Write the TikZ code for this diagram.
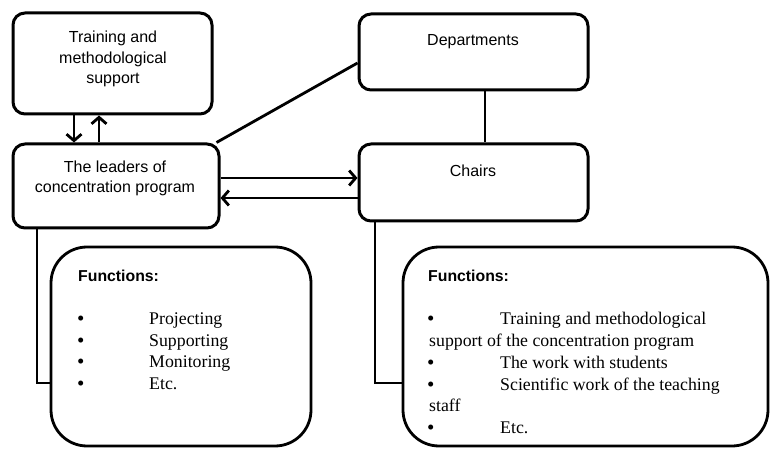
\documentclass[tikz,border=0pt]{standalone}
\usepackage{fontspec}
\setmainfont{Liberation Serif}
\newfontfamily\labelfont{Liberation Sans}
\usetikzlibrary{arrows.meta,calc}
\begin{document}
\begin{tikzpicture}[x=1pt,y=-1pt,
  box/.style={draw,line width=3pt,rounded corners=12pt,inner sep=0pt},
  fnbox/.style={draw,line width=2.8pt,rounded corners=36pt,inner sep=0pt},
  lbl/.style={inner sep=0pt,anchor=base,font=\labelfont\fontsize{16}{19}\selectfont},
  head/.style={inner sep=0pt,anchor=base west,font=\labelfont\bfseries\fontsize{15.8}{19}\selectfont},
  item/.style={inner sep=0pt,anchor=base west,font=\fontsize{17.8}{22}\selectfont},
  dot/.style={inner sep=0pt,anchor=base west,font=\fontsize{21}{21}\selectfont},
  link/.style={line width=2.8pt},
  arr/.style={link,-{Straight Barb[length=6.5pt,width=15pt]}}
]
\useasboundingbox (0,0) rectangle (771,449);

% boxes
\node[box,minimum width=199pt,minimum height=101pt] (tms)  at (112.5,63.5) {};
\node[box,minimum width=206pt,minimum height=84pt]  (lead) at (116,186) {};
\node[box,minimum width=229pt,minimum height=76pt]  (dep)  at (473.5,52) {};
\node[box,minimum width=229pt,minimum height=77pt]  (ch)   at (473.5,182.5) {};
\node[fnbox,minimum width=260pt,minimum height=199pt] (f1) at (181,346.5) {};
\node[fnbox,minimum width=365pt,minimum height=199pt] (f2) at (585.5,346.5) {};

% box labels
\node[lbl] (tms1) at (113,43) {Training and};
\node[lbl] (tms2) at (113,64) {methodological};
\node[lbl] (tms3) at (113,84) {support};
\node[lbl] (lead1) at (115,173) {The leaders of};
\node[lbl] (lead2) at (115,193) {concentration program};
\node[lbl] (dep1) at (473,46) {Departments};
\node[lbl] (ch1) at (473,177) {Chairs};

% function lists
\node[head] (f1h) at (78,281) {Functions:};
\node[dot] (f1b1) at (77,325) {•};
\node[item] (f1t1) at (149,324) {Projecting};
\node[dot] (f1b2) at (77,347) {•};
\node[item] (f1t2) at (149,346) {Supporting};
\node[dot] (f1b3) at (77,368) {•};
\node[item] (f1t3) at (149,367) {Monitoring};
\node[dot] (f1b4) at (77,390) {•};
\node[item] (f1t4) at (149,389) {Etc.};

\node[head] (f2h) at (428,281) {Functions:};
\node[dot] (f2b1) at (427,325) {•};
\node[item] (f2t1) at (500,324) {Training and methodological};
\node[item] (f2t1b) at (429,346) {support of the concentration program};
\node[dot] (f2b2) at (427,369) {•};
\node[item] (f2t2) at (500,368) {The work with students};
\node[dot] (f2b3) at (427,391) {•};
\node[item] (f2t3) at (500,390) {Scientific work of the teaching};
\node[item] (f2t3b) at (429,411) {staff};
\node[dot] (f2b4) at (427,434) {•};
\node[item] (f2t4) at (500,433) {Etc.};

% connector guide coordinates
\coordinate (dnx) at (74,0);
\coordinate (upx) at (99,0);
\coordinate (ry1) at (0,178);
\coordinate (ry2) at (0,198);
\coordinate (dly) at (0,63);
\coordinate (dcx) at (485,0);
\coordinate (e1) at (37,383);
\coordinate (e2) at (375,383);

% connectors
\draw[arr] (dnx |- tms.south) -- (dnx |- lead.north);
\draw[arr] (upx |- lead.north) -- (upx |- tms.south);
\draw[link] ($(lead.north east)+(-4,0)$) -- (dep.west |- dly);
\draw[link] (dcx |- dep.south) -- (dcx |- ch.north);
\draw[arr] (lead.east |- ry1) -- (ch.west |- ry1);
\draw[arr] (ch.west |- ry2) -- (lead.east |- ry2);
\draw[link] (e1 |- lead.south) -- (e1) -- (f1.west |- e1);
\draw[link] (e2 |- ch.south) -- (e2) -- (f2.west |- e2);
\end{tikzpicture}
\end{document}
